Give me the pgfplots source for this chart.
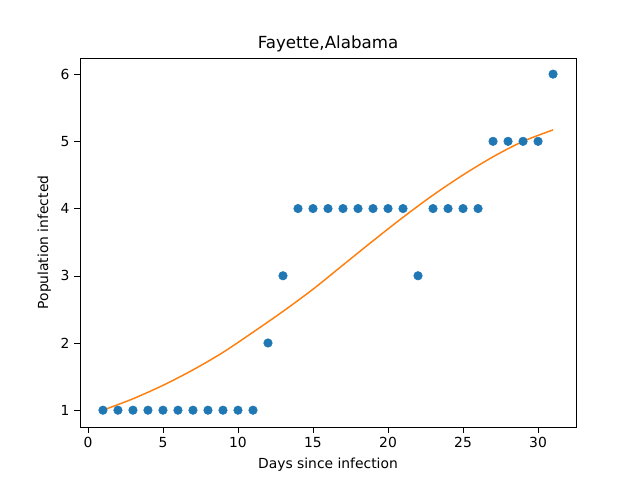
\documentclass[border=0pt]{standalone}
\usepackage{pgfplots}
\pgfplotsset{compat=1.18}
\usepackage{fontspec}
\setmainfont{DejaVu Sans}
\definecolor{mblue}{RGB}{31,119,180}
\definecolor{morange}{RGB}{255,127,14}
\begin{document}
\fontsize{10.4}{12}\selectfont
\begin{tikzpicture}
\useasboundingbox (-60pt,-39.75pt) rectangle (420pt,320.25pt);
\begin{axis}[at={(0,0)},anchor=south west,scale only axis,width=372pt,height=276.75pt,
xmin=-0.53,xmax=32.53,ymin=0.75,ymax=6.24,
xtick={0,5,...,30},ytick={1,...,6},
xtick pos=bottom,ytick pos=left,
tick align=outside,tick style={black},
/pgf/number format/assume math mode=true,
ticklabel style={font=\fontsize{10.4}{12}\selectfont},
title style={yshift=-5pt},
title={\fontsize{12.5}{14}\selectfont Fayette,Alabama},
xlabel={Days since infection},ylabel={Population infected}]
\addplot[only marks,mark=*,mark size=3.2pt,color=mblue,mark options={draw=mblue,fill=mblue}] coordinates {
(1,1)(2,1)(3,1)(4,1)(5,1)(6,1)(7,1)(8,1)(9,1)(10,1)(11,1)(12,2)(13,3)
(14,4)(15,4)(16,4)(17,4)(18,4)(19,4)(20,4)(21,4)(22,3)(23,4)(24,4)(25,4)(26,4)
(27,5)(28,5)(29,5)(30,5)(31,6)};
\addplot[smooth,line width=1.1pt,color=morange] coordinates {
(1,1.0)(3,1.17)(5,1.37)(7,1.60)(9,1.86)(11,2.16)(13,2.47)(15,2.80)(17,3.16)(19,3.52)(21,3.87)(23,4.20)(25,4.50)(27,4.77)(29,5.00)(31,5.17)};
\end{axis}
\end{tikzpicture}
\end{document}
